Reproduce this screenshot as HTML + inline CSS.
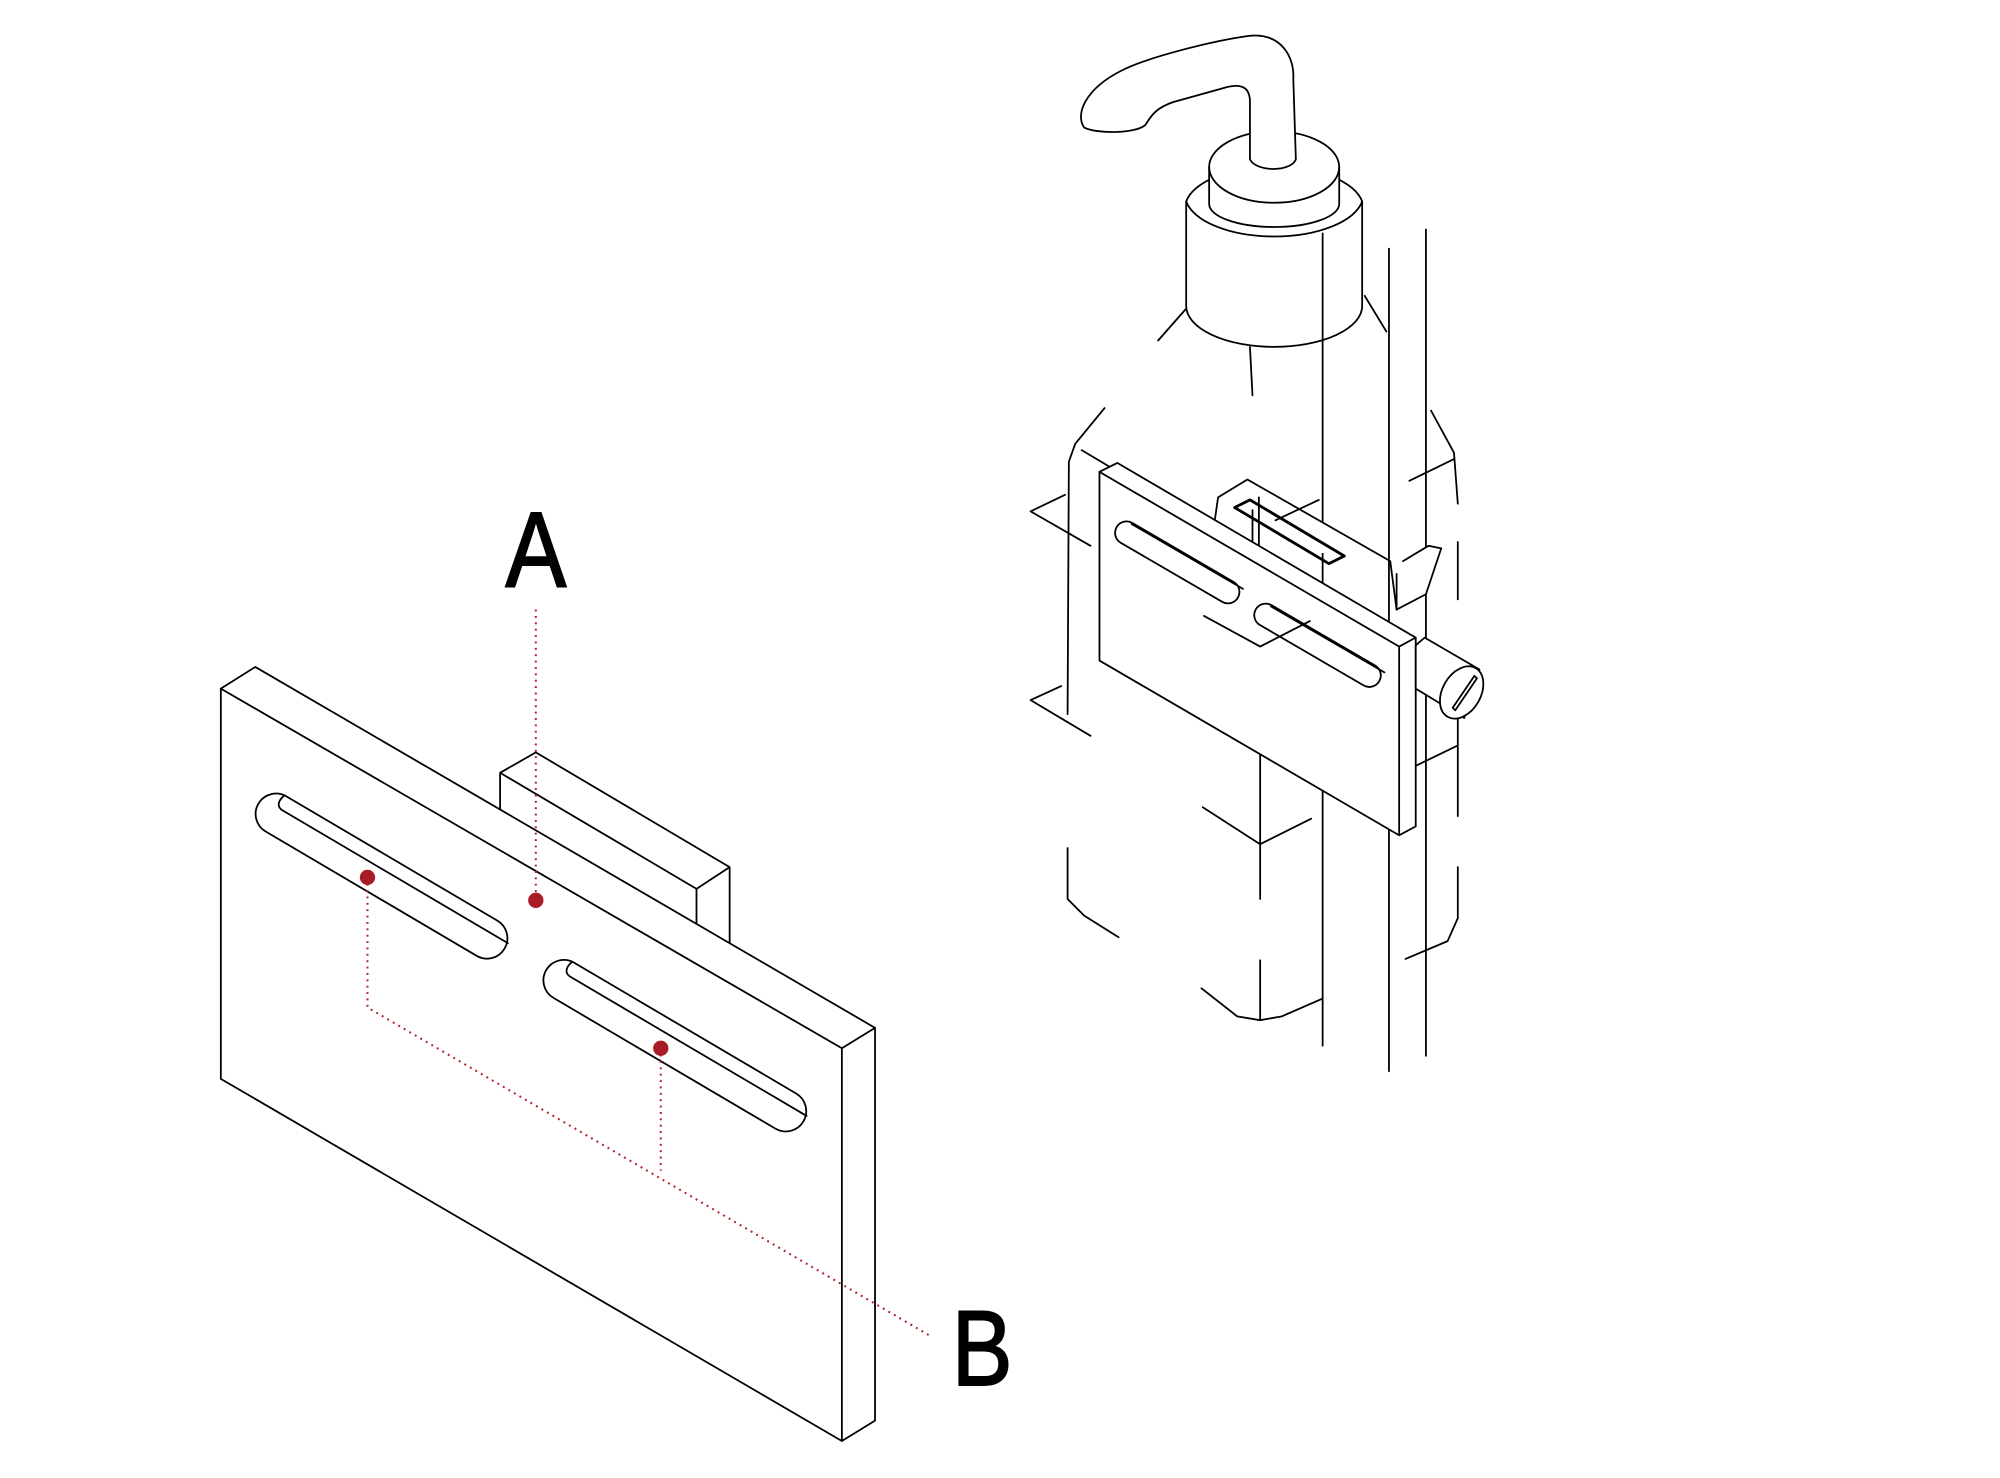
<!DOCTYPE html>
<html><head><style>html,body{margin:0;padding:0;background:#fff}svg{display:block}</style></head>
<body>
<svg width="2000" height="1478" viewBox="0 0 1568 1159" xmlns="http://www.w3.org/2000/svg">
<g fill="none" stroke="#000" stroke-width="1.4" stroke-linejoin="round" stroke-linecap="round">
<path d="M392,636 L392,606 L420,590 L572,680 L572,740 M392,606 L546,697 L572,680 M546,697 L546,728"/>
<path fill="#fff" d="M173,540 L200,523 L686,806 L686,1114 L660,1130 L173,846 Z"/>
<path d="M173,540 L660,822 L686,806 M660,822 L660,1130"/>
<g transform="translate(299,687) rotate(30.5)">
<rect x="-112" y="-16" width="224" height="32" rx="16"/>
<path d="M-98,-15 C-100,-9 -98,-5 -93,-5 L112,-5"/>
</g>
<g transform="translate(529,820) rotate(30.5)">
<rect x="-117" y="-16" width="234" height="32" rx="16"/>
<path d="M-103,-15 C-105,-9 -103,-5 -98,-5 L117,-5"/>
</g>
</g>
<g fill="none" stroke="#b0202a" stroke-width="1.6" stroke-dasharray="1.5 3.5">
<path d="M420,478 L420,706"/>
<path d="M288,688 L288,790 L730,1048"/>
<path d="M518,822 L518,918"/>
</g>
<g fill="#a81c26"><circle cx="420" cy="706" r="6"/><circle cx="288" cy="688" r="6"/><circle cx="518" cy="822" r="6"/></g>
<text transform="translate(420,460) scale(0.85,1)" font-family="Liberation Sans, sans-serif" font-size="84" text-anchor="middle" stroke="#000" stroke-width="1.5">A</text>
<text transform="translate(770,1086) scale(0.85,1)" font-family="Liberation Sans, sans-serif" font-size="84" text-anchor="middle" stroke="#000" stroke-width="1.5">B</text>

<g fill="none" stroke="#000" stroke-width="1.4" stroke-linejoin="round" stroke-linecap="round">
<path d="M1089,195 L1089,840 M1118,180 L1118,828"/>
<path d="M908,267 L930,242 M1070,232 L1087,260 M980,272 L982,310"/>
<path d="M866,320 L843,348 L838,362 L837,560 M837,665 L837,705 L850,718 L877,735"/>
<path d="M1122,322 L1140,355 L1143,395 M1143,425 L1143,470 M1143,555 L1143,640 M1143,680 L1143,720 L1135,738 L1102,752"/>
<path d="M942,775 L970,797 L988,800 L1005,797 L1037,783 M988,753 L988,800 M988,567 L988,705 M943,633 L988,662 L1028,642"/>
<path d="M808,401 L835,388 M808,401 L855,428 M808,549 L832,538 M808,549 L855,577 M848,353 L880,372 M1105,377 L1140,360 M1105,603 L1142,585"/>
<path fill="#fff" d="M930,158 L930,240 A69,32 0 0 0 1068,240 L1068,158 A70,33 0 0 0 930,158 Z"/>
<path d="M930,158 A70,33 0 0 0 1068,158"/>
<path fill="#fff" d="M948,131 L948,160 A51,18 0 0 0 1050,160 L1050,131 A51,28 0 0 0 948,131 Z"/>
<path d="M948,131 A51,28 0 0 0 1050,131"/>
<path fill="#fff" d="M980,125 L980,80 C980,68 973,66 963,68 L920,80 C905,85 902,92 898,98 C890,105 860,105 850,100 C843,90 850,70 880,55 C900,45 950,32 980,28 C1005,26 1015,45 1014,62 L1016,125 C1012,135 985,135 980,125 Z"/>
<path d="M1037,183 L1037,820"/>
<path fill="#fff" d="M950,425 L955,390 L978,376 L1090,440 L1095,478 L1118,466 L1130,430 L1120,428 L1100,440"/>
<path d="M968,398 L980,392 L1054,436 L1042,442 Z" stroke-width="2.2"/>
<path d="M982,400 L982,430 M987,390 L987,520 M1000,408 L1034,392 M1095,450 L1095,478"/>
<path fill="#fff" d="M862,370 L876,363 L1110,500 L1110,648 L1097,655 L862,518 Z"/>
<path d="M862,370 L1097,507 L1110,500 M1097,507 L1097,655"/>
<g transform="translate(923,441) rotate(30.2)"><rect x="-55" y="-9" width="110" height="18" rx="9"/><path d="M-46,-8 L55,-8"/></g>
<g transform="translate(1033,506) rotate(30.2)"><rect x="-56" y="-9" width="112" height="18" rx="9"/><path d="M-47,-8 L56,-8"/></g>
<path d="M944,483 L988,507 L1027,487"/>
<path fill="#fff" d="M1110,506 L1117,500 L1160,525 L1148,563 L1110,540 Z"/>
<ellipse cx="1146" cy="543" rx="15" ry="22" transform="rotate(30 1146 543)" fill="#fff"/>
<path d="M1139,555 L1156,530 L1158,532 L1141,557 Z"/>
</g>
</svg>
</body></html>
